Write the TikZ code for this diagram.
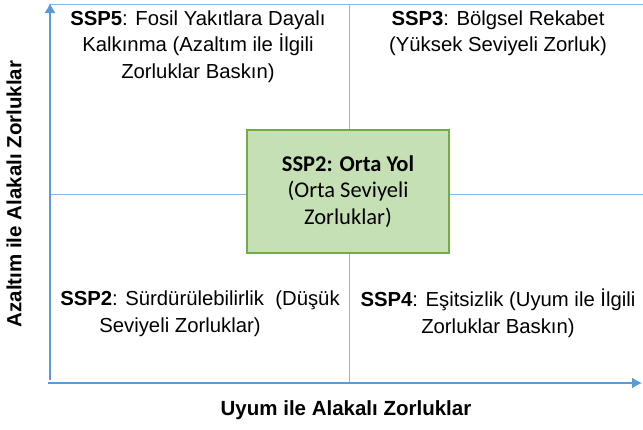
\documentclass[tikz,border=0pt]{standalone}
\usepackage{fontspec}
\setmainfont{Liberation Sans}
\newfontfamily\calibri{Carlito}
\usetikzlibrary{arrows.meta, positioning}
\newcommand{\tb}{\textbf}
\definecolor{axisblue}{RGB}{91,155,213}
\definecolor{gridblue}{RGB}{140,185,228}
\definecolor{boxgreen}{RGB}{197,224,180}
\definecolor{linegreen}{RGB}{112,173,71}

\begin{document}
\begin{tikzpicture}[x=1pt, y=-1pt,
  axis/.style    = {draw=axisblue, line width=1.4pt, -{Latex[length=10pt,width=11pt]}},
  grid/.style    = {draw=gridblue, line width=1pt},
  quad/.style    = {align=center, font=\fontsize{20.3}{26.5}\selectfont, inner sep=0pt},
  middle/.style  = {draw=linegreen, fill=boxgreen, line width=1.5pt, align=center,
                    minimum width=202pt, minimum height=123pt,
                    font=\calibri\fontsize{22.5}{26.5}\selectfont},
  label/.style   = {font=\bfseries\fontsize{20.5}{24}\selectfont, inner sep=0pt}]

\useasboundingbox (0,0) rectangle (643,429);

% corners and ends of the frame
\coordinate (o)   at (50,383);
\coordinate (top) at (50,3);
\coordinate (tl)  at (50,4.5);
\coordinate (tr)  at (643,4.5);
\coordinate (xe)  at (642,383);
\coordinate (mt)  at (349,4.5);
\coordinate (mb)  at (349,383);
\coordinate (ml)  at (50,194);
\coordinate (mr)  at (643,194);

% quadrant lines
\draw[grid] (tl) -- (tr);
\draw[grid] (mt) -- (mb);
\draw[grid] (ml) -- (mr);

% axes
\draw[axis] ([yshift=3pt]o) -- (top);
\draw[axis] ([xshift=-2pt]o) -- (xe);

% the four scenarios
\node[quad] (ssp5) at (198,46.5) {\tb{SSP5}: Fosil Yakıtlara Dayalı\\ Kalkınma (Azaltım ile İlgili\\ Zorluklar Baskın)};
\node[quad] (ssp3) at (498,33)   {\tb{SSP3}: Bölgsel Rekabet\\ (Yüksek Seviyeli Zorluk)};
\node[quad] (ssp1) at (200,313.5) {\tb{SSP2}: Sürdürülebilirlik \ (Düşük\\ Seviyeli Zorluklar)\hspace*{40pt}};
\node[quad] (ssp4) at (498,313.5) {\tb{SSP4}: Eşitsizlik (Uyum ile İlgili\\ Zorluklar Baskın)};

% the middle road
\node[middle] (ssp2) at (348,191.5) {\tb{SSP2: Orta Yol}\\ (Orta Seviyeli\\ Zorluklar)};

% axis titles
\node[label, rotate=90] (ylab) at (14,194) {Azaltım ile Alakalı Zorluklar};
\node[label] (xlab) at (346,410) {Uyum ile Alakalı Zorluklar};

\end{tikzpicture}
\end{document}
